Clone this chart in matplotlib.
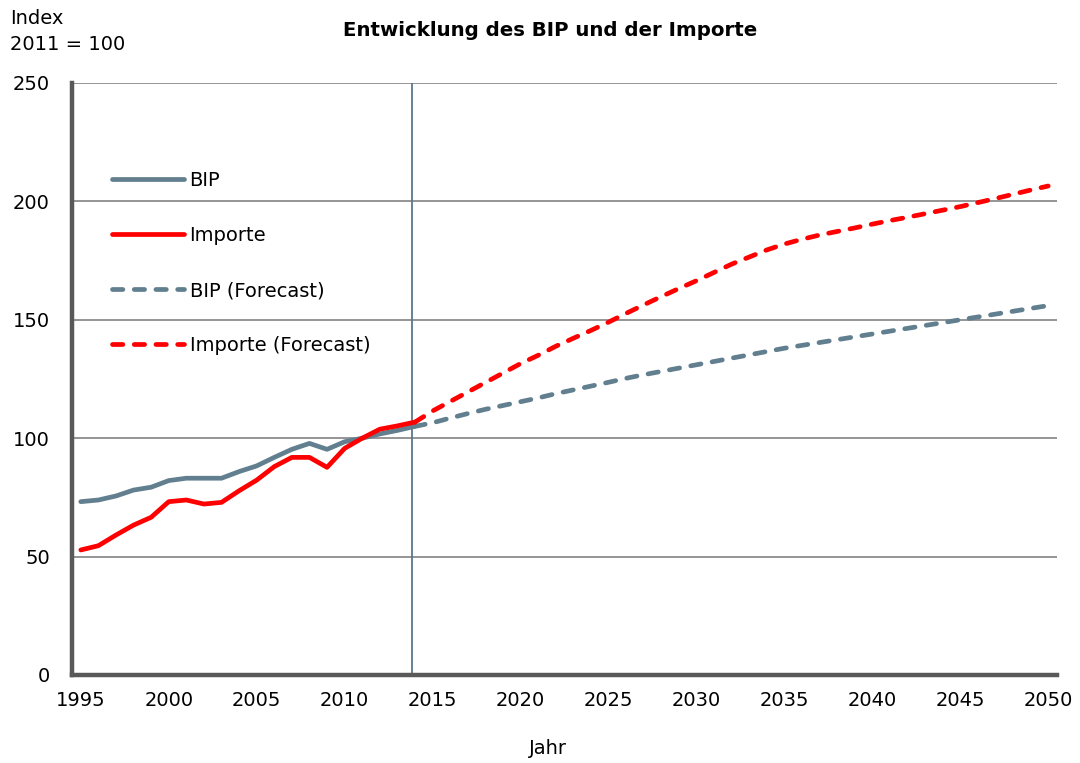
import matplotlib
matplotlib.use("Agg")
import matplotlib.pyplot as plt

plt.rcParams['font.family'] = ['DejaVu Sans']

# ---- data ----
years_hist = list(range(1995, 2015))
bip_hist = [73.2, 73.9, 75.6, 78.1, 79.3, 82.1, 83.1, 83.1, 83.1, 85.9,
            88.3, 91.9, 95.3, 97.8, 95.3, 98.5, 100.0, 101.8, 103.3, 105.0]
imp_hist = [52.8, 54.6, 59.1, 63.3, 66.6, 73.2, 73.9, 72.2, 72.9, 77.8,
            82.3, 88.0, 91.9, 91.9, 87.7, 95.7, 100.0, 103.8, 105.2, 106.8]

years_fc = list(range(2014, 2051))
bip_fc = [105.0, 106.5, 108.5, 110.4, 112.2, 113.8, 115.4, 117.0, 118.8, 120.4,
          122.0, 123.6, 125.3, 126.8, 128.2, 129.6, 131.0, 132.4, 133.8, 135.2,
          136.6, 138.0, 139.2, 140.4, 141.6, 142.8, 144.0, 145.2, 146.4, 147.6,
          148.8, 150.0, 151.2, 152.4, 153.6, 154.8, 156.0]
imp_fc = [106.8, 111.5, 115.5, 119.5, 123.5, 127.5, 131.5, 135.0, 138.8, 142.2,
          145.5, 149.0, 152.7, 156.3, 159.8, 163.2, 166.5, 170.0, 173.5, 176.5,
          179.5, 182.0, 184.0, 185.8, 187.3, 188.8, 190.4, 191.9, 193.3, 194.8,
          196.3, 197.8, 199.5, 201.2, 203.0, 204.8, 206.5]

xticks = list(range(1995, 2051, 5))
yticks = [0, 50, 100, 150, 200, 250]
forecast_start = 2013.85

labels = ["BIP", "Importe", "BIP (Forecast)", "Importe (Forecast)"]
title = "Entwicklung des BIP und der Importe"
ylabel_lines = ["Index", "2011 = 100"]
xlabel = "Jahr"

# ---- style ----
c_bip = "#617f8f"
c_imp = "#ff0000"
grid_c = "#8c8c8c"
spine_c = "#595959"
fs = 14

fig = plt.figure(figsize=(10.8, 7.63), dpi=100)
ax = fig.add_axes([72 / 1080, 88 / 763, 985 / 1080, 592 / 763])

ax.set_xlim(1994.5, 2050.5)
ax.set_ylim(0, 250)

for y in yticks[1:]:
    ax.axhline(y, color=grid_c, lw=1.3, zorder=1)

ax.axvline(forecast_start, ymin=0, ymax=1, color="#5c7689", lw=1.3, zorder=2)

lw = 3.4
ax.plot(years_hist, bip_hist, color=c_bip, lw=lw, solid_capstyle='round',
        label=labels[0], zorder=4)
ax.plot(years_hist, imp_hist, color=c_imp, lw=lw, solid_capstyle='round',
        label=labels[1], zorder=5)
ax.plot(years_fc, bip_fc, color=c_bip, lw=lw, dashes=(2.2, 2.4),
        dash_capstyle='round', label=labels[2], zorder=4)
ax.plot(years_fc, imp_fc, color=c_imp, lw=lw, dashes=(2.2, 2.4),
        dash_capstyle='round', label=labels[3], zorder=5)

ax.set_xticks(xticks)
ax.set_yticks(yticks)
ax.tick_params(axis='both', length=0, labelsize=fs)
ax.tick_params(axis='y', pad=16)
ax.tick_params(axis='x', pad=11.5)

for s in ['top', 'right']:
    ax.spines[s].set_visible(False)
ax.spines['left'].set_color(spine_c)
ax.spines['left'].set_linewidth(3.2)
ax.spines['bottom'].set_color(spine_c)
ax.spines['bottom'].set_linewidth(3.2)

leg = ax.legend(loc='upper left', bbox_to_anchor=(0.0325, 0.864), frameon=False,
                fontsize=fs, handlelength=3.7, handletextpad=0.3,
                labelspacing=1.85, borderaxespad=0)

fig.text(550 / 1080, 1 - 30 / 763, title, ha='center', va='center',
         fontsize=14.2, fontweight='bold')
fig.text(10 / 1080, 1 - 18 / 763, ylabel_lines[0], ha='left', va='center',
         fontsize=fs)
fig.text(10 / 1080, 1 - 45 / 763, ylabel_lines[1], ha='left', va='center',
         fontsize=fs)
fig.text(548 / 1080, 1 - 748 / 763, xlabel, ha='center', va='center',
         fontsize=fs)

fig.savefig("out.png", dpi=100)
